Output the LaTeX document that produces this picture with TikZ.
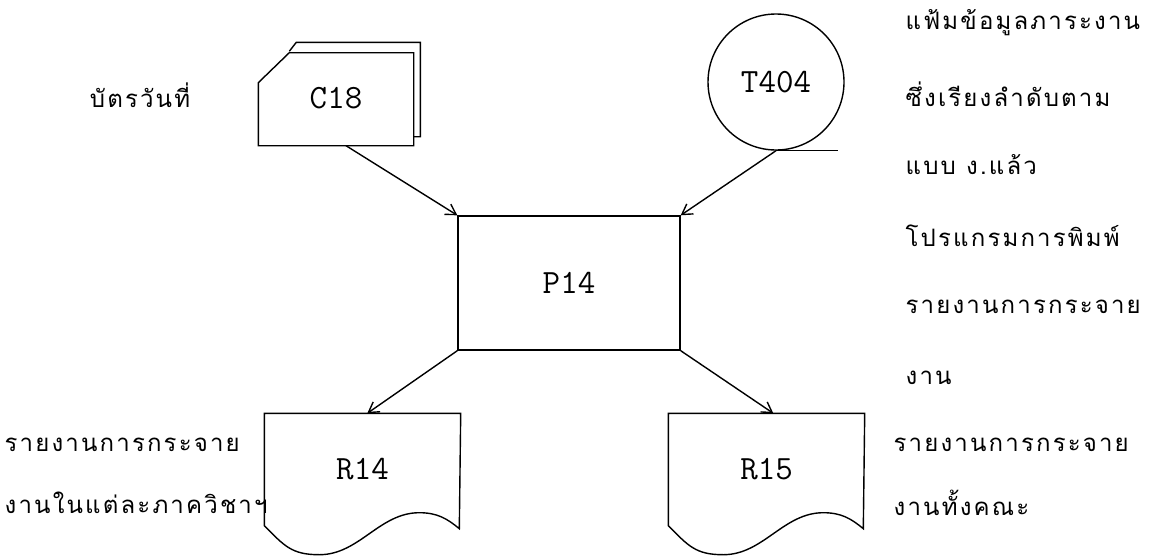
\documentclass[tikz,border=0pt]{standalone}
\usepackage{fontspec}
\usepackage{tikz}
\usetikzlibrary{arrows.meta, calc, positioning}
\newfontfamily\thaifont[Script=Thai, LetterSpace=9]{Loma}

\begin{document}
\begin{tikzpicture}[x=0.5pt, y=-0.5pt, line width=0.7pt,
    flow/.style={-{Straight Barb[length=5pt, width=6pt]}},
    note/.style={anchor=west, inner sep=0pt, font=\thaifont\fontsize{12}{14}\selectfont},
    code/.style={font=\ttfamily\fontsize{17}{19}\selectfont},
    docbox/.style={code, minimum width=97.5pt, minimum height=55.5pt, inner sep=0pt}]
  \useasboundingbox (0,0) rectangle (1149,557);

  % input card
  \node[code, minimum width=77pt, minimum height=46.5pt, inner sep=0pt] (c18) at (336,98.5) {C18};
  \draw (c18.south west) -- ++(0,-63) -- ++(31,-30) -| (c18.south east) -- cycle;
  \draw ($(c18.north west)+(31,0)$) -- ++(7,-9) -- ++(124,0) |- ($(c18.south east)+(0,-9)$);
  \node[note, anchor=center] (cardnote) at (140,95) {บัตรวันที่};

  % tape file
  \node[code, circle, draw, minimum size=68pt, inner sep=0pt] (t404) at (776,82) {T404};
  \draw (t404.south) -- ++(62,0);

  % process
  \node[code, draw, minimum width=111pt, minimum height=67pt] (p14) at (569,283) {P14};

  % reports
  \node[docbox] (r14) at (362.5,469.5) {R14};
  \node[docbox] (r15) at (766.5,469.5) {R15};
  \foreach \d in {r14,r15}
    \draw (\d.north west) -- (\d.south west)
          .. controls +(20,20) and +(-28,0) .. ++(55,29)
          .. controls +(40,0) and +(-40,0) .. ++(100,-42)
          .. controls +(18,0) and +(-12,-10) .. ++(40,16)
          -- (\d.north east) -- cycle;
  \coordinate (r14in) at ($(r14.north west)+(103,0)$);
  \coordinate (r15in) at ($(r15.north west)+(105,0)$);

  \draw[flow] ([xshift=5pt]c18.south) -- (p14.north west);
  \draw[flow] (t404.south) -- (p14.north east);
  \draw[flow] (p14.south west) -- (r14in);
  \draw[flow] (p14.south east) -- (r15in);

  % notes
  \foreach \t [count=\i] in {แฟ้มข้อมูลภาระงาน, ซึ่งเรียงลำดับตาม, แบบ ง.แล้ว,
      โปรแกรมการพิมพ์, รายงานการกระจาย, งาน}
    \node[note] (info\i) at (905,{23+71*(\i-1)}) {\t};
  \node[note] (r15note1) at (893,445) {รายงานการกระจาย};
  \node[note] (r15note2) at (893,503) {งานทั้งคณะ};
  \node[note] (r14note1) at (4,445) {รายงานการกระจาย};
  \node[note] (r14note2) at (4,503) {งานในแต่ละภาควิชาฯ};
\end{tikzpicture}
\end{document}
